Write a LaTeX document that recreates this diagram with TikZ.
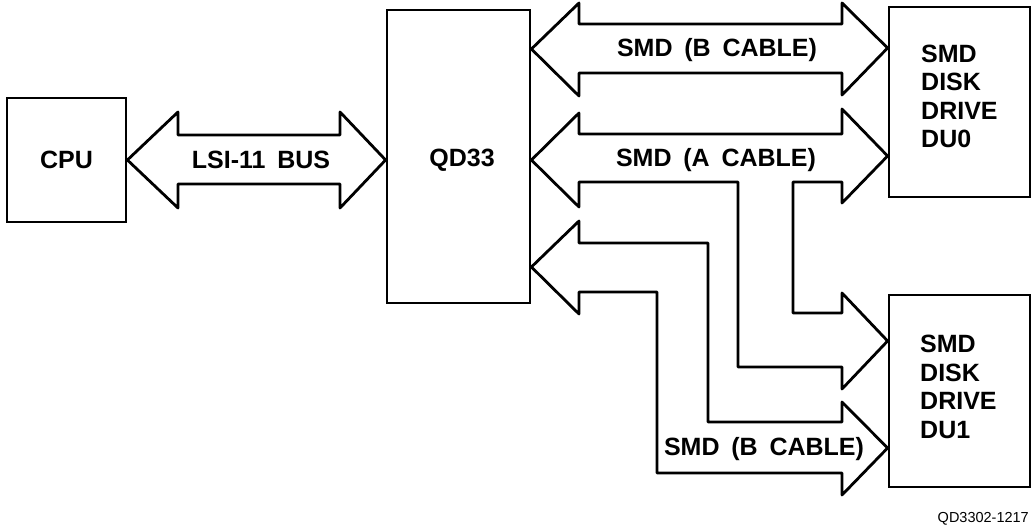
\documentclass[tikz,border=0pt]{standalone}
\usepackage{fontspec}
\setmainfont{Liberation Sans}[WordSpace=1.7]
\usetikzlibrary{calc}
\begin{document}
\begin{tikzpicture}[x=1pt,y=-1pt,
  box/.style={draw, line width=2.8pt, inner sep=0pt},
  lbl/.style={font=\fontsize{25}{28.5}\selectfont\bfseries, inner sep=0pt},
  barrow/.style={draw, line width=2.8pt, line join=round},
  foot/.style={font=\fontsize{14.5}{17}\selectfont, inner sep=0pt}]
\useasboundingbox (0,0) rectangle (1032,529);
% boxes
\node[box, minimum width=119pt, minimum height=124pt] (cpu) at (66.5,160) {};
\node[box, minimum width=143pt, minimum height=293pt] (qd) at (458.5,156.5) {};
\node[box, minimum width=141pt, minimum height=190pt] (du0) at (959.5,102) {};
\node[box, minimum width=141pt, minimum height=192pt] (du1) at (959.5,391) {};
% box texts
\node[lbl, anchor=base] (cput) at (66.5,169) {CPU};
\node[lbl, anchor=base] (qdt) at (462,167) {QD33};
\node[lbl, anchor=base west, align=left] (du0t) at (921,148) {SMD\\DISK\\DRIVE\\DU0};
\node[lbl, anchor=base west, align=left] (du1t) at (920,438) {SMD\\DISK\\DRIVE\\DU1};
% LSI-11 bus
\draw[barrow] (cpu.east |- 0,160) -- (178,112) -- (178,135) -- (340,135) -- (340,112)
  -- (qd.west |- 0,160) -- (340,208) -- (340,184) -- (178,184) -- (178,208) -- cycle;
\node[lbl, anchor=base] (lsi) at (261,169) {LSI-11 BUS};
% SMD B cable to DU0
\draw[barrow] (qd.east |- 0,49) -- (579,3) -- (579,24) -- (842,24) -- (842,3)
  -- (du0.west |- 0,48) -- (842,95) -- (842,73) -- (579,73) -- (579,96) -- cycle;
\node[lbl, anchor=base] (bcab0) at (717,57) {SMD (B CABLE)};
% SMD A cable to DU0 and DU1
\draw[barrow] (qd.east |- 0,160) -- (579,113) -- (579,134) -- (842,134) -- (842,109)
  -- (du0.west |- 0,156) -- (842,203) -- (842,182) -- (793,182) -- (793,313)
  -- (842,313) -- (842,293) -- (du1.west |- 0,341) -- (842,389) -- (842,367)
  -- (738,367) -- (738,182) -- (579,182) -- (579,207) -- cycle;
\node[lbl, anchor=base] (acab) at (716,167) {SMD (A CABLE)};
% SMD B cable to DU1
\draw[barrow] (qd.east |- 0,267) -- (579,221) -- (579,243) -- (708,243) -- (708,422)
  -- (842,422) -- (842,402) -- (du1.west |- 0,448) -- (842,495) -- (842,473)
  -- (657,473) -- (657,292) -- (579,292) -- (579,314) -- cycle;
\node[lbl, anchor=base] (bcab1) at (764,455) {SMD (B CABLE)};
% footer
\node[foot, anchor=base east] (ref) at (1029,522) {QD3302-1217};
\end{tikzpicture}
\end{document}
